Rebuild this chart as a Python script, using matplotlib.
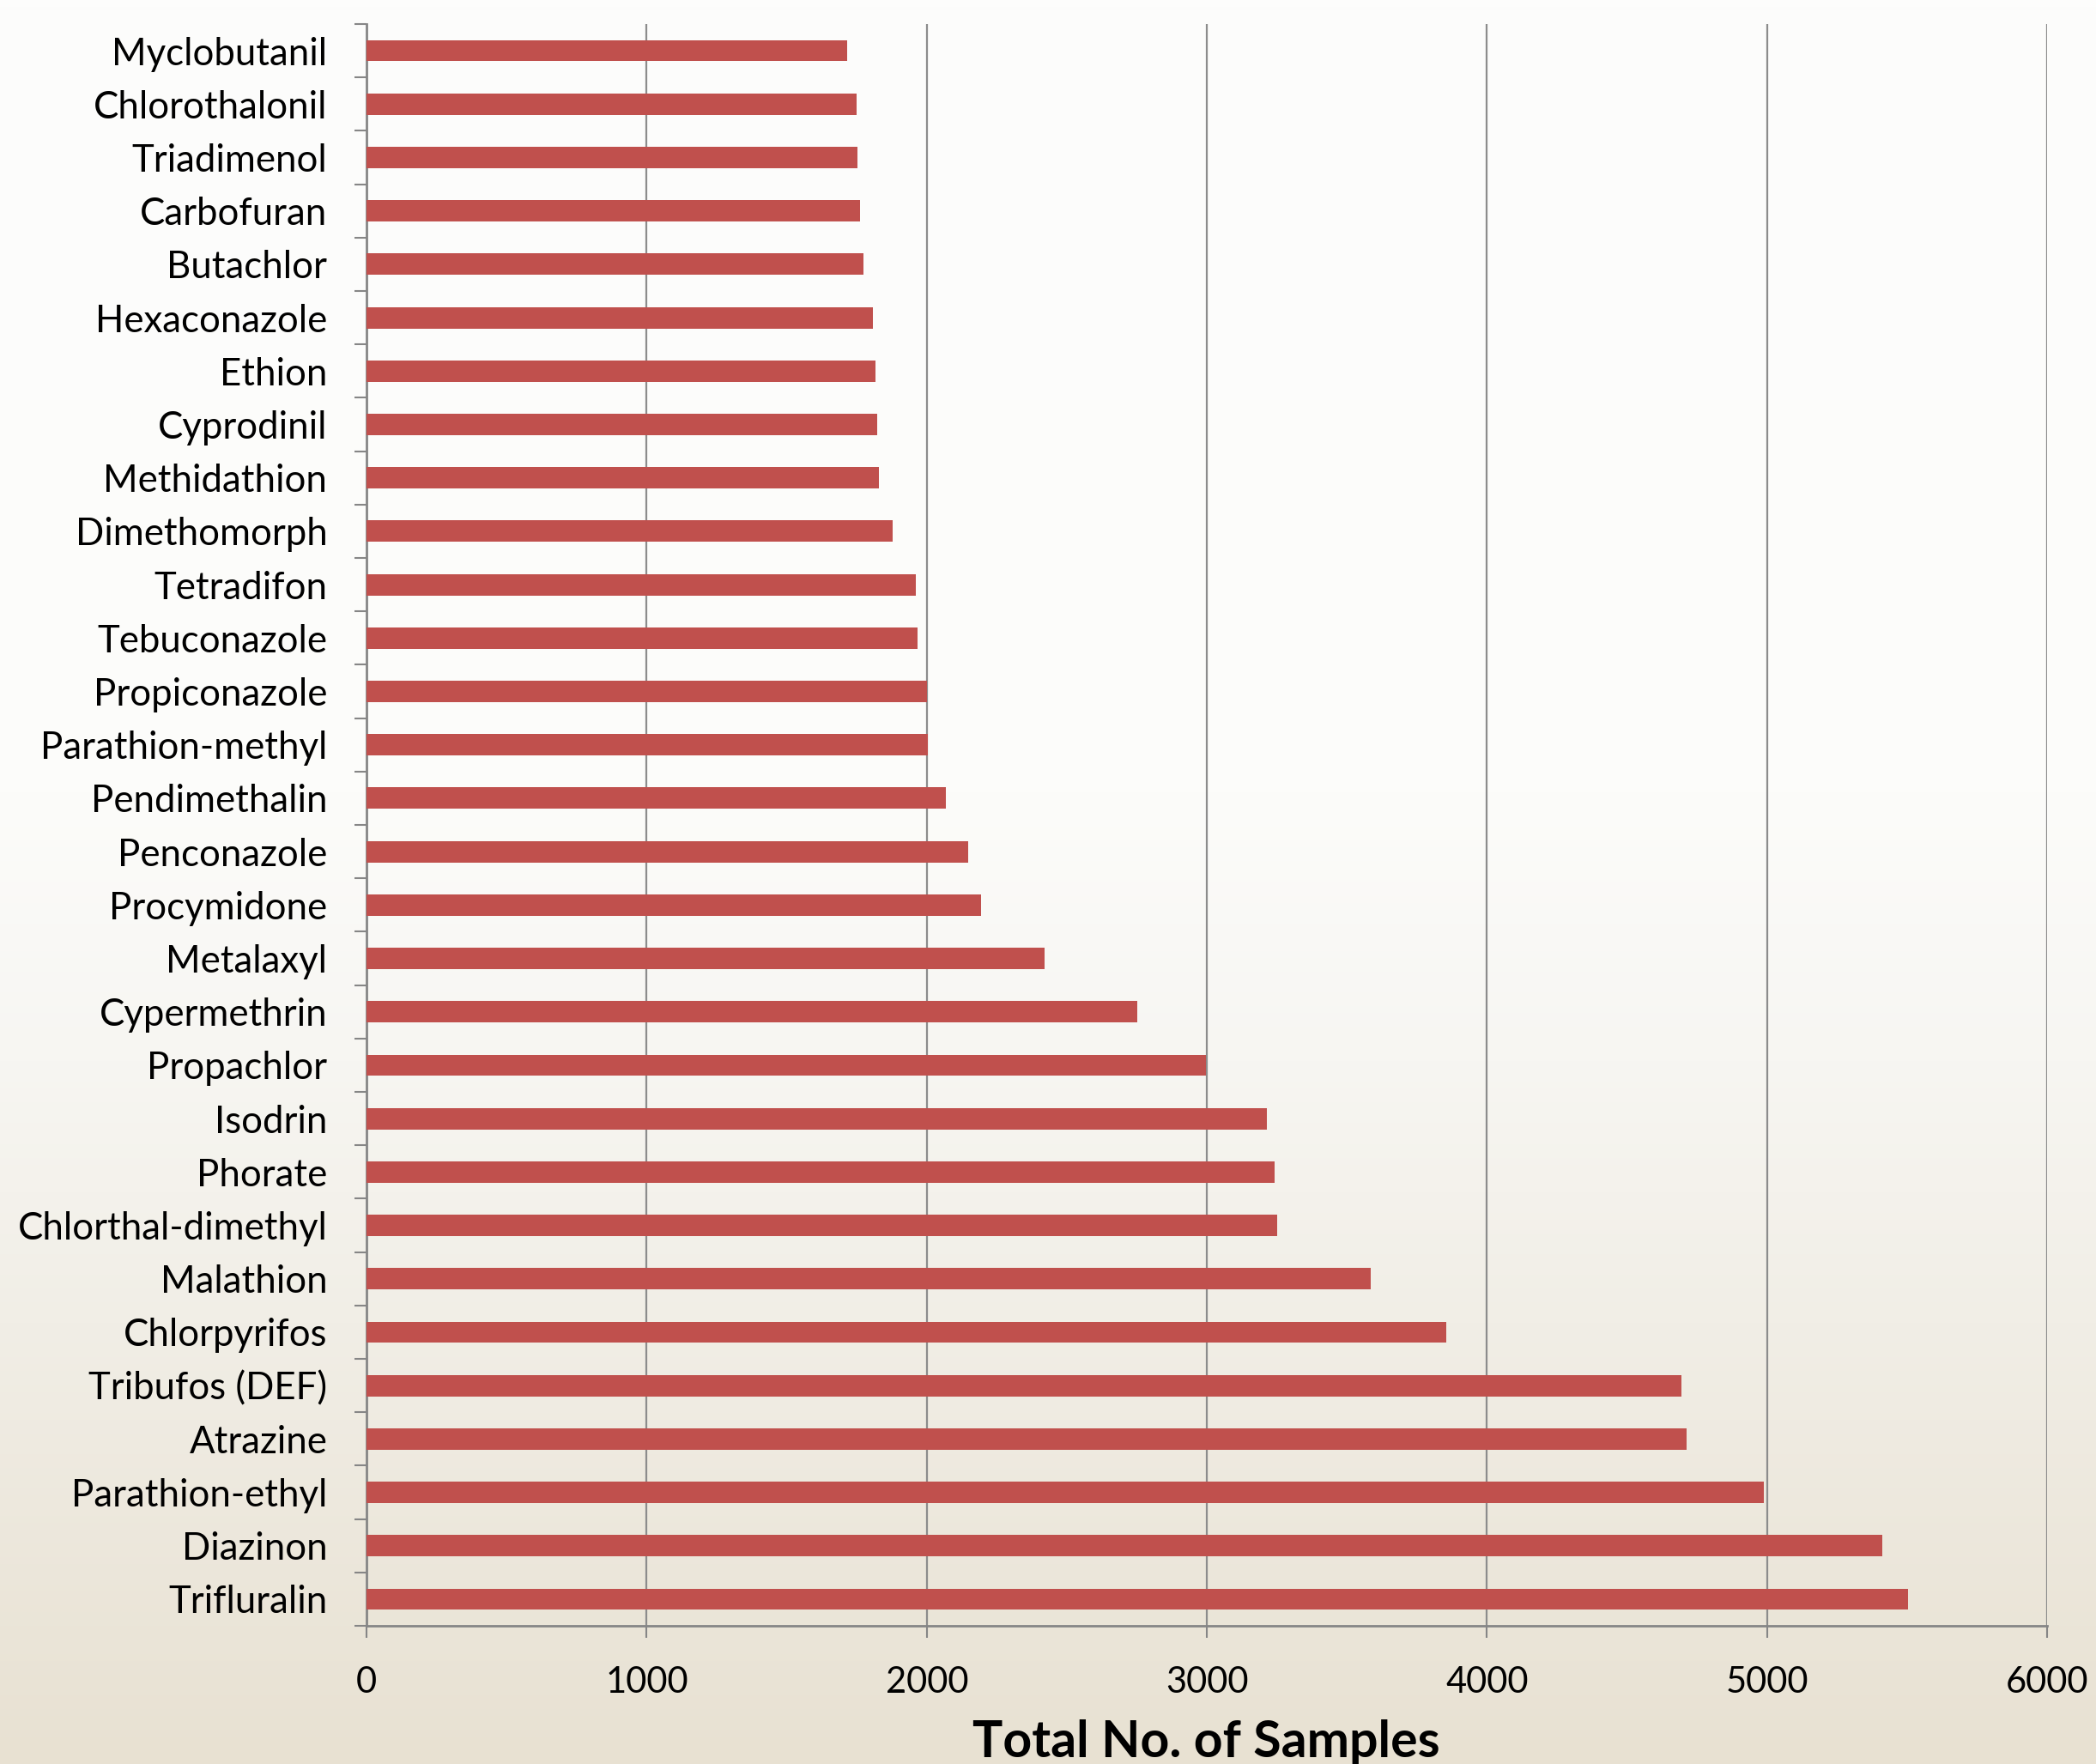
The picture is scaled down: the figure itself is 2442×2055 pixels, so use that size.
import matplotlib.pyplot as plt
import numpy as np
from matplotlib.colors import LinearSegmentedColormap

# pesticides, top to bottom as in the chart
pesticides = [
    'Myclobutanil', 'Chlorothalonil', 'Triadimenol', 'Carbofuran', 'Butachlor',
    'Hexaconazole', 'Ethion', 'Cyprodinil', 'Methidathion', 'Dimethomorph',
    'Tetradifon', 'Tebuconazole', 'Propiconazole', 'Parathion-methyl',
    'Pendimethalin', 'Penconazole', 'Procymidone', 'Metalaxyl', 'Cypermethrin',
    'Propachlor', 'Isodrin', 'Phorate', 'Chlorthal-dimethyl', 'Malathion',
    'Chlorpyrifos', 'Tribufos (DEF)', 'Atrazine', 'Parathion-ethyl',
    'Diazinon', 'Trifluralin',
]
samples = [
    1715, 1748, 1752, 1763, 1774,
    1807, 1816, 1823, 1829, 1878,
    1960, 1968, 2001, 2005,
    2068, 2149, 2194, 2422, 2752,
    2997, 3214, 3242, 3250, 3585,
    3855, 4695, 4714, 4989,
    5412, 5503,
]
xticks = [0, 1000, 2000, 3000, 4000, 5000, 6000]

plt.rcParams['font.family'] = ['Lato', 'DejaVu Sans']

fig = plt.figure(figsize=(24.42, 20.55), dpi=100)

# background gradient (white at the top, beige at the bottom)
bg = fig.add_axes([0, 0, 1, 1], zorder=-10)
bg_cmap = LinearSegmentedColormap.from_list('bg', [
    (0.0, (253/255, 253/255, 252/255)),
    (0.45, (252/255, 252/255, 250/255)),
    (0.6, (247/255, 246/255, 242/255)),
    (0.75, (241/255, 238/255, 230/255)),
    (1.0, (232/255, 225/255, 210/255)),
])
bg.imshow(np.linspace(0, 1, 512).reshape(-1, 1), aspect='auto', cmap=bg_cmap,
          extent=[0, 1, 0, 1], origin='upper')
bg.axis('off')

ax = fig.add_axes([0.1749, 0.0783, 0.8018, 0.9081])
ax.set_facecolor('none')

y = np.arange(len(pesticides))
ax.barh(y, samples, height=0.4, color='#C0504D', zorder=3)

ax.set_xlim(0, 6000)
ax.set_ylim(len(pesticides) - 0.5, -0.5)

ax.set_xticks(xticks)
ax.set_xticklabels([str(t) for t in xticks])
ax.set_yticks(y)
ax.set_yticklabels(pesticides)
ax.set_yticks(np.arange(len(pesticides) + 1) - 0.5, minor=True)

ax.tick_params(axis='y', which='major', length=0, pad=33, labelsize=31.5)
ax.tick_params(axis='y', which='minor', length=10, width=1.5, color='#868686')
ax.tick_params(axis='x', length=10, width=1.5, color='#868686', pad=24,
               labelsize=30)

ax.grid(axis='x', color='#8C8C8C', linewidth=1.6, zorder=0)
ax.set_axisbelow(True)

for s in ['top', 'right']:
    ax.spines[s].set_visible(False)
for s in ['left', 'bottom']:
    ax.spines[s].set_color('#868686')
    ax.spines[s].set_linewidth(2)

fig.text(0.5755, 0.004, 'Total No. of Samples', ha='center', va='baseline',
         fontsize=42.5, fontweight='bold')

fig.savefig('out.png', dpi=100)
